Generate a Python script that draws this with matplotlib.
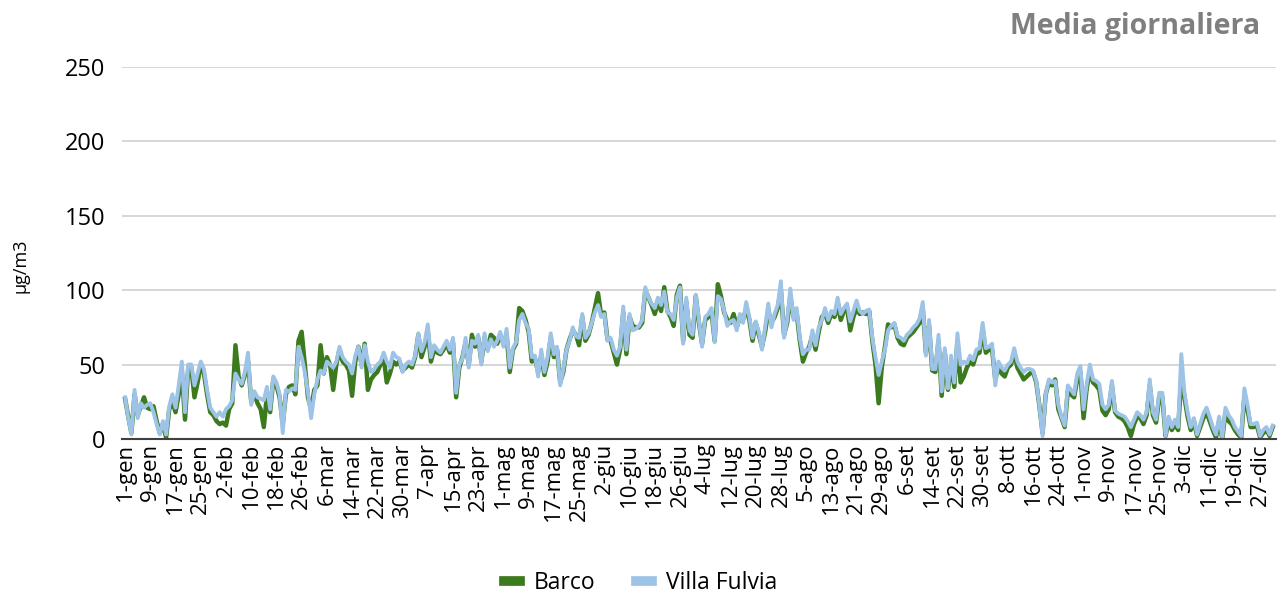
import numpy as np
import pandas as pd
import matplotlib
matplotlib.use("Agg")
import matplotlib.pyplot as plt

plt.rcParams["font.family"] = ["Open Sans", "DejaVu Sans"]

# daily means 2019-like year (365 days)
villa_fulvia = [
    # gen
    28, 14, 3, 33, 14, 24, 21, 23, 24, 18, 10, 3, 12, 3, 22, 30, 21, 36, 52, 18,
    50, 50, 36, 44, 52, 47, 33, 21, 18, 15, 18,
    # feb
    15, 20, 22, 26, 44, 40, 37, 45, 58, 23, 32, 28, 27, 26, 35, 20, 42, 38, 30, 4,
    33, 32, 34, 33, 62, 55, 45, 31,
    # mar
    14, 30, 40, 46, 44, 52, 50, 48, 52, 62, 55, 52, 50, 44, 56, 62, 48, 63, 52, 45,
    47, 50, 52, 58, 52, 48, 58, 55, 54, 45, 50,
    # apr
    52, 50, 56, 71, 59, 65, 77, 55, 63, 60, 58, 62, 66, 60, 68, 31, 50, 54, 68, 48,
    66, 64, 70, 50, 71, 59, 67, 62, 66, 72,
    # mag
    62, 74, 48, 61, 65, 80, 84, 78, 74, 55, 56, 42, 60, 45, 55, 71, 57, 62, 36, 47,
    60, 66, 75, 69, 68, 84, 68, 71, 78, 85, 90,
    # giu
    82, 84, 66, 68, 60, 56, 62, 89, 60, 84, 73, 74, 76, 80, 102, 95, 91, 88, 95, 90,
    99, 85, 84, 80, 95, 102, 64, 95, 73, 70,
    # lug
    97, 80, 62, 82, 84, 88, 65, 96, 94, 86, 76, 79, 80, 73, 84, 78, 92, 82, 68, 79,
    72, 60, 75, 91, 75, 84, 90, 106, 68, 80, 101,
    # ago
    80, 88, 68, 57, 60, 60, 73, 63, 75, 80, 88, 80, 86, 84, 95, 84, 88, 91, 79, 86,
    93, 86, 84, 86, 87, 68, 55, 43, 52, 60, 73,
    # set
    76, 78, 69, 68, 66, 70, 72, 75, 77, 81, 92, 56, 80, 47, 47, 70, 32, 61, 34, 56,
    38, 71, 50, 52, 51, 56, 53, 60, 61, 78,
    # ott
    61, 62, 64, 36, 52, 48, 46, 50, 52, 61, 52, 48, 45, 47, 47, 46, 39, 22, 2, 30,
    40, 38, 39, 23, 15, 9, 36, 33, 30, 44, 49,
    # nov
    20, 37, 50, 40, 39, 37, 23, 20, 23, 39, 19, 17, 16, 15, 12, 8, 13, 18, 16, 13,
    18, 40, 18, 13, 31, 31, 2, 15, 8, 13,
    # dic
    8, 57, 31, 18, 8, 14, 3, 10, 17, 21, 15, 8, 3, 15, 1, 21, 16, 13, 8, 5,
    2, 34, 23, 10, 10, 11, 2, 6, 8, 3, 9,
]

barco = [
    # gen
    27, 15, 4, 30, 16, 22, 28, 21, 20, 22, 12, 4, 10, 1, 20, 25, 18, 30, 45, 13,
    47, 48, 28, 38, 50, 44, 30, 18, 16, 12, 10,
    # feb
    11, 9, 20, 24, 63, 42, 36, 43, 52, 25, 30, 24, 20, 8, 30, 18, 40, 36, 28, 10,
    30, 35, 36, 30, 66, 72, 50, 28,
    # mar
    20, 33, 36, 63, 44, 55, 50, 33, 50, 60, 52, 50, 46, 29, 52, 62, 50, 64, 33, 40,
    43, 45, 50, 55, 38, 44, 52, 50, 52, 46, 48,
    # apr
    50, 48, 55, 70, 55, 62, 72, 52, 60, 58, 57, 60, 64, 58, 65, 28, 48, 55, 65, 50,
    70, 62, 68, 52, 68, 60, 70, 68, 64, 70,
    # mag
    64, 70, 45, 60, 64, 88, 86, 80, 72, 52, 54, 45, 56, 43, 52, 68, 55, 60, 38, 45,
    60, 67, 73, 70, 63, 82, 66, 70, 78, 88, 98,
    # giu
    83, 85, 67, 66, 58, 50, 60, 85, 57, 82, 76, 75, 75, 78, 100, 95, 90, 84, 92, 86,
    102, 86, 82, 76, 97, 103, 66, 92, 70, 68,
    # lug
    96, 78, 64, 80, 82, 85, 66, 104, 96, 85, 80, 78, 84, 75, 82, 80, 88, 80, 66, 78,
    70, 62, 72, 86, 78, 82, 88, 100, 70, 78, 96,
    # ago
    82, 85, 66, 52, 58, 62, 70, 60, 72, 82, 84, 78, 84, 82, 90, 80, 86, 88, 73, 82,
    88, 84, 85, 84, 86, 66, 50, 24, 48, 62, 77,
    # set
    75, 77, 68, 64, 63, 68, 70, 72, 75, 78, 88, 58, 76, 46, 45, 66, 29, 58, 33, 50,
    35, 66, 38, 42, 48, 52, 50, 57, 58, 74,
    # ott
    58, 60, 60, 40, 48, 44, 42, 48, 50, 58, 48, 44, 40, 42, 44, 45, 38, 22, 4, 30,
    38, 36, 40, 20, 14, 8, 32, 30, 28, 40, 45,
    # nov
    14, 34, 46, 38, 36, 33, 19, 16, 20, 36, 18, 15, 14, 12, 8, 2, 10, 15, 14, 10,
    16, 36, 16, 11, 28, 28, 2, 12, 6, 10,
    # dic
    6, 42, 28, 15, 6, 12, 2, 8, 14, 18, 12, 6, 1, 12, 0, 18, 12, 10, 6, 3,
    1, 28, 20, 8, 8, 9, 1, 4, 6, 2, 8,
]

mesi = ["gen", "feb", "mar", "apr", "mag", "giu",
        "lug", "ago", "set", "ott", "nov", "dic"]
giorni = pd.date_range("2019-01-01", "2019-12-31", freq="D")
etichette = [f"{d.day}-{mesi[d.month - 1]}" for d in giorni]

fig = plt.figure(figsize=(12.81, 5.97), dpi=100)
ax = fig.add_axes([0.0952, 0.2647, 0.9008, 0.6231])

x = np.arange(len(giorni))
ax.plot(x, barco, color="#3C7A1E", lw=3.2, label="Barco", zorder=3,
        solid_joinstyle="round")
ax.plot(x, villa_fulvia, color="#9DC3E6", lw=2.8, label="Villa Fulvia", zorder=4,
        solid_joinstyle="round")

ax.set_xlim(-1, len(giorni))
ax.set_ylim(0, 250)
ax.set_yticks(np.arange(0, 251, 50))
ax.set_xticks(x[::8])
ax.set_xticklabels(etichette[::8], rotation=90, fontsize=16)
ax.tick_params(axis="y", labelsize=17, length=0, pad=12)
ax.tick_params(axis="x", length=0, pad=3)
ax.grid(axis="y", color="#D0D0D0", lw=1.2)
ax.set_axisbelow(True)
for s in ["top", "right", "left"]:
    ax.spines[s].set_visible(False)
ax.spines["bottom"].set_color("#404040")
ax.spines["bottom"].set_linewidth(1.5)
ax.spines["bottom"].set_zorder(5)

fig.text(0.016, 0.555, "µg/m3", rotation=90, ha="center", va="center",
         fontsize=13)
fig.text(0.984, 0.955, "Media giornaliera", ha="right", va="center",
         fontsize=20.5, fontweight="bold", color="#7F7F7F")

fig.legend(*ax.get_legend_handles_labels(), loc="center", ncol=2,
           bbox_to_anchor=(0.5, 0.023), frameon=False, fontsize=16.5,
           handlelength=0.7, columnspacing=1.8, handletextpad=0.6)
for h in fig.legends[0].legend_handles:
    h.set_linewidth(7)

fig.savefig("out.png", dpi=100)
